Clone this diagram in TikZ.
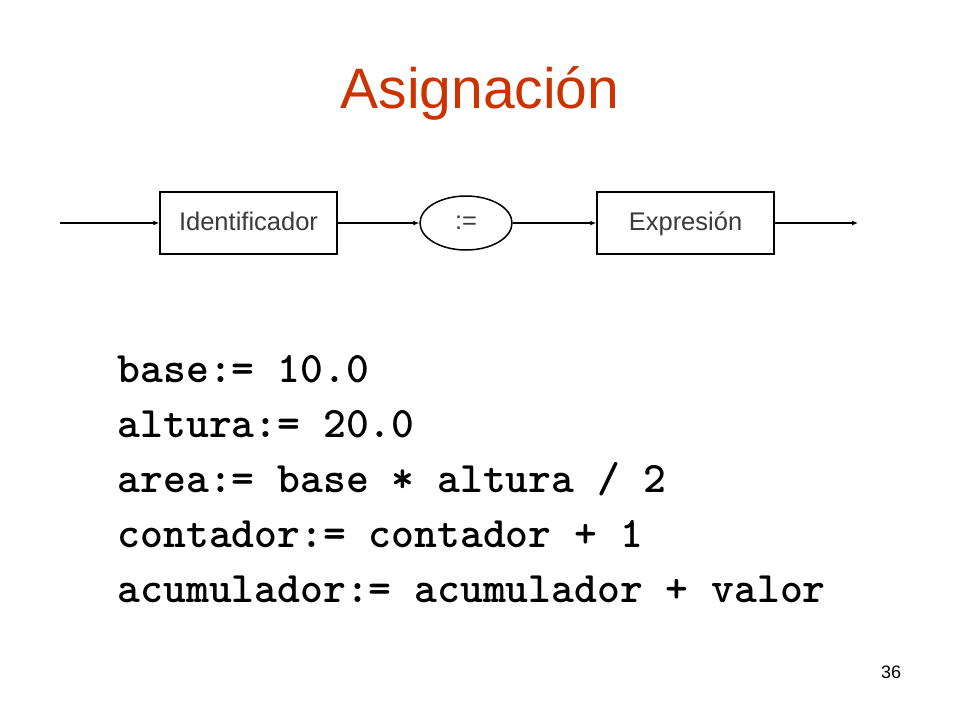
\documentclass[tikz,border=0pt]{standalone}
\usepackage{fontspec}
\setmainfont{Liberation Sans}
\usetikzlibrary{arrows.meta,shapes.geometric}
\definecolor{titlered}{HTML}{CC3300}
\definecolor{boxtext}{HTML}{3A3A3A}

\begin{document}
\begin{tikzpicture}[x=1pt,y=-1pt,line width=1.5pt,
    >={Latex[length=6pt,width=5pt]},
    box/.style={draw,rectangle,minimum width=177,minimum height=62,inner sep=0pt,
        text height=19pt,text depth=5pt,
        text=boxtext,font=\fontsize{25.5}{28}\selectfont},
    oval/.style={draw,ellipse,minimum width=92,minimum height=54,inner sep=0pt,
        text height=17pt,text depth=4pt,
        text=boxtext,font=\fontsize{25.5}{28}\selectfont},
    codeline/.style={anchor=base west,inner sep=0pt,
        font=\ttfamily\bfseries\fontsize{43.5}{50}\selectfont}]
    \useasboundingbox (0,0) rectangle (960,720);

    \node[anchor=base,text=titlered,font=\fontsize{57}{64}\selectfont] (title) at (480,108) {Asignación};

    \coordinate (in) at (60,223);
    \node[box] (id) at (248.5,223) {Identificador};
    \node[oval] (asig) at (466,223) {:=};
    \node[box] (expr) at (685.5,223) {Expresión};
    \coordinate (out) at (858,223);
    \draw[->] (in) to (id);
    \draw[->] (id) to (asig);
    \draw[->] (asig) to (expr);
    \draw[->] (expr) to (out);

    \node[codeline] (l1) at (117,382) {base:= 10.0};
    \node[codeline] (l2) at (117,437) {altura:= 20.0};
    \node[codeline] (l3) at (117,492) {area:= base * altura / 2};
    \node[codeline] (l4) at (117,547) {contador:= contador + 1};
    \node[codeline] (l5) at (117,602) {acumulador:= acumulador + valor};

    \node[anchor=base,font=\fontsize{18}{20}\selectfont] (page) at (891,678) {36};
\end{tikzpicture}
\end{document}
